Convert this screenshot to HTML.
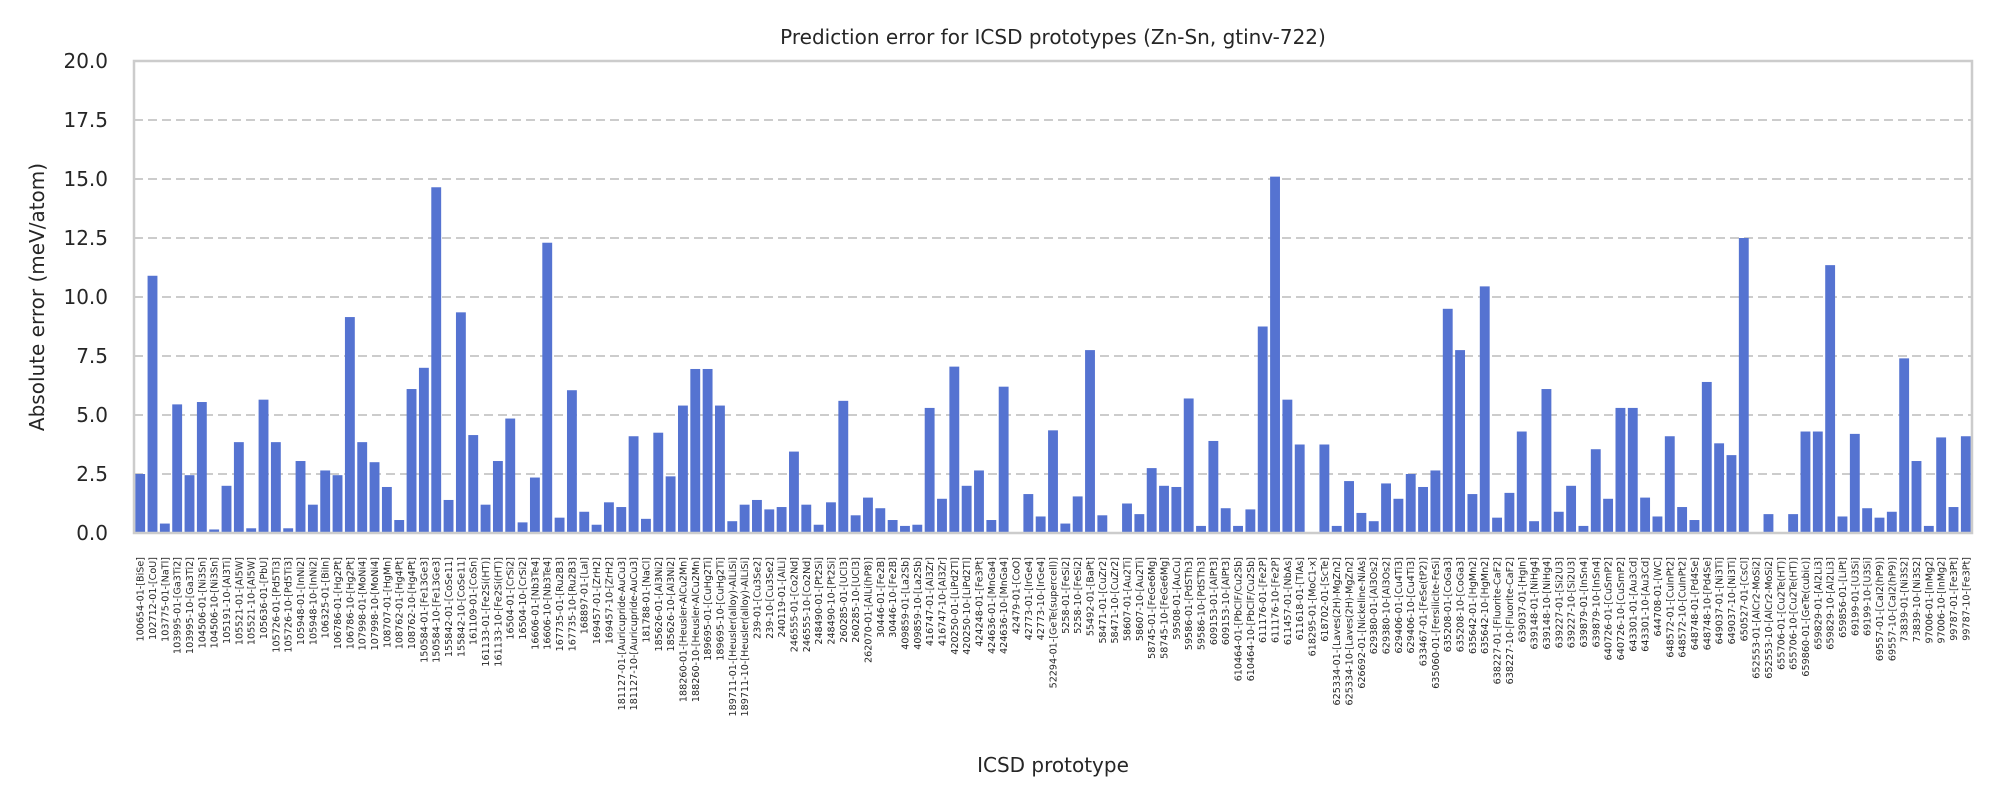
<!DOCTYPE html>
<html><head><meta charset="utf-8"><style>
html,body{margin:0;padding:0;background:#fff;}
svg text{font-family:"DejaVu Sans","Liberation Sans",sans-serif;fill:#262626;}
</style></head><body>
<svg id="chart" width="2000" height="800" xmlns="http://www.w3.org/2000/svg">
<text x="1053" y="44" font-size="20" text-anchor="middle">Prediction error for ICSD prototypes (Zn-Sn, gtinv-722)</text>
<text transform="translate(44,297) rotate(-90)" font-size="20" text-anchor="middle">Absolute error (meV/atom)</text>
<text x="1053" y="772" font-size="20" text-anchor="middle">ICSD prototype</text>
<g id="grid"></g><g id="bars"></g><g id="yticks"></g><g id="xticks"></g>
<rect x="134" y="61" width="1838" height="472" fill="none" stroke="#cccccc" stroke-width="2.5"/>
</svg>
<script>
const categories = ["100654-01-[BiSe]","102712-01-[CoU]","103775-01-[NaTl]","103995-01-[Ga3Ti2]","103995-10-[Ga3Ti2]","104506-01-[Ni3Sn]","104506-10-[Ni3Sn]","105191-10-[Al3Ti]","105521-01-[Al5W]","105521-10-[Al5W]","105636-01-[PbU]","105726-01-[Pd5Ti3]","105726-10-[Pd5Ti3]","105948-01-[InNi2]","105948-10-[InNi2]","106325-01-[BiIn]","106786-01-[Hg2Pt]","106786-10-[Hg2Pt]","107998-01-[MoNi4]","107998-10-[MoNi4]","108707-01-[HgMn]","108762-01-[Hg4Pt]","108762-10-[Hg4Pt]","150584-01-[Fe13Ge3]","150584-10-[Fe13Ge3]","155842-01-[CoSe11]","155842-10-[CoSe11]","161109-01-[CoSn]","161133-01-[Fe2Si(HT)]","161133-10-[Fe2Si(HT)]","16504-01-[CrSi2]","16504-10-[CrSi2]","16606-01-[Nb3Te4]","16606-10-[Nb3Te4]","167735-01-[Ru2B3]","167735-10-[Ru2B3]","168897-01-[LaI]","169457-01-[ZrH2]","169457-10-[ZrH2]","181127-01-[Auricupride-AuCu3]","181127-10-[Auricupride-AuCu3]","181788-01-[NaCl]","185626-01-[Al3Ni2]","185626-10-[Al3Ni2]","188260-01-[Heusler-AlCu2Mn]","188260-10-[Heusler-AlCu2Mn]","189695-01-[CuHg2Ti]","189695-10-[CuHg2Ti]","189711-01-[Heusler(alloy)-AlLiSi]","189711-10-[Heusler(alloy)-AlLiSi]","239-01-[Cu3Se2]","239-10-[Cu3Se2]","240119-01-[AlLi]","246555-01-[Co2Nd]","246555-10-[Co2Nd]","248490-01-[Pt2Si]","248490-10-[Pt2Si]","260285-01-[UCl3]","260285-10-[UCl3]","262070-01-[AlLi(hP8)]","30446-01-[Fe2B]","30446-10-[Fe2B]","409859-01-[La2Sb]","409859-10-[La2Sb]","416747-01-[Al3Zr]","416747-10-[Al3Zr]","420250-01-[LiPd2Tl]","420250-10-[LiPd2Tl]","424248-01-[Fe3Pt]","424636-01-[MnGa4]","424636-10-[MnGa4]","42479-01-[CoO]","42773-01-[IrGe4]","42773-10-[IrGe4]","52294-01-[GeTe(supercell)]","5258-01-[FeSi2]","5258-10-[FeSi2]","55492-01-[BaPt]","58471-01-[CuZr2]","58471-10-[CuZr2]","58607-01-[Au2Ti]","58607-10-[Au2Ti]","58745-01-[FeGe6Mg]","58745-10-[FeGe6Mg]","59508-01-[AuCu]","59586-01-[PdSTh3]","59586-10-[PdSTh3]","609153-01-[AlPt3]","609153-10-[AlPt3]","610464-01-[PbClF/Cu2Sb]","610464-10-[PbClF/Cu2Sb]","611176-01-[Fe2P]","611176-10-[Fe2P]","611457-01-[NbAs]","611618-01-[TlAs]","618295-01-[MoC1-x]","618702-01-[ScTe]","625334-01-[Laves(2H)-MgZn2]","625334-10-[Laves(2H)-MgZn2]","626692-01-[Nickeline-NiAs]","629380-01-[Al3Os2]","629380-10-[Al3Os2]","629406-01-[Cu4Ti3]","629406-10-[Cu4Ti3]","633467-01-[FeSe(tP2)]","635060-01-[Fersilicite-FeSi]","635208-01-[CoGa3]","635208-10-[CoGa3]","635642-01-[HgMn2]","635642-10-[HgMn2]","638227-01-[Fluorite-CaF2]","638227-10-[Fluorite-CaF2]","639037-01-[HgIn]","639148-01-[NiHg4]","639148-10-[NiHg4]","639227-01-[Si2U3]","639227-10-[Si2U3]","639879-01-[InSn4]","639879-10-[InSn4]","640726-01-[CuSmP2]","640726-10-[CuSmP2]","643301-01-[Au3Cd]","643301-10-[Au3Cd]","644708-01-[WC]","648572-01-[CuInPt2]","648572-10-[CuInPt2]","648748-01-[Pd4Se]","648748-10-[Pd4Se]","649037-01-[Ni3Ti]","649037-10-[Ni3Ti]","650527-01-[CsCl]","652553-01-[AlCr2-MoSi2]","652553-10-[AlCr2-MoSi2]","655706-01-[Cu2Te(HT)]","655706-10-[Cu2Te(HT)]","659860-01-[GeTe(cubic)]","659829-01-[Al2Li3]","659829-10-[Al2Li3]","659856-01-[LiPt]","69199-01-[U3Si]","69199-10-[U3Si]","69557-01-[CaI2(hP9)]","69557-10-[CaI2(hP9)]","73839-01-[Ni3S2]","73839-10-[Ni3S2]","97006-01-[InMg2]","97006-10-[InMg2]","99787-01-[Fe3Pt]","99787-10-[Fe3Pt]"];
const errors = [2.5,10.9,0.4,5.45,2.45,5.55,0.15,2.0,3.85,0.2,5.65,3.85,0.2,3.05,1.2,2.65,2.45,9.15,3.85,3.0,1.95,0.55,6.1,7.0,14.65,1.4,9.35,4.15,1.2,3.05,4.85,0.45,2.35,12.3,0.65,6.05,0.9,0.35,1.3,1.1,4.1,0.6,4.25,2.4,5.4,6.95,6.95,5.4,0.5,1.2,1.4,1.0,1.1,3.45,1.2,0.35,1.3,5.6,0.75,1.5,1.05,0.55,0.3,0.35,5.3,1.45,7.05,2.0,2.65,0.55,6.2,0.0,1.65,0.7,4.35,0.4,1.55,7.75,0.75,0.0,1.25,0.8,2.75,2.0,1.95,5.7,0.3,3.9,1.05,0.3,1.0,8.75,15.1,5.65,3.75,0.0,3.75,0.3,2.2,0.85,0.5,2.1,1.45,2.5,1.95,2.65,9.5,7.75,1.65,10.45,0.65,1.7,4.3,0.5,6.1,0.9,2.0,0.3,3.55,1.45,5.3,5.3,1.5,0.7,4.1,1.1,0.55,6.4,3.8,3.3,12.5,0.0,0.8,0.0,0.8,4.3,4.3,11.35,0.7,4.2,1.05,0.65,0.9,7.4,3.05,0.3,4.05,1.1,4.1];
const yTicks = [0,2.5,5,7.5,10,12.5,15,17.5,20];
const yTickLabels = ["0.0","2.5","5.0","7.5","10.0","12.5","15.0","17.5","20.0"];

const NS="http://www.w3.org/2000/svg";
const X0=134,X1=1972,Y0=533,Y1=61,YMAX=20;
const step=(X1-X0)/categories.length;
const xc=i=>X0+(i+0.5)*step;
const ys=v=>Y0-(v/YMAX)*(Y0-Y1);
function mk(t,a){const e=document.createElementNS(NS,t);for(const k in a)e.setAttribute(k,a[k]);return e;}
const grid=document.getElementById('grid'),yt=document.getElementById('yticks'),bars=document.getElementById('bars'),xt=document.getElementById('xticks');
yTicks.forEach((v,i)=>{
  if(v>0&&v<YMAX){
    const l=mk('line',{x1:X0,x2:X1,y1:ys(v),y2:ys(v),stroke:'#cccccc','stroke-width':2,'stroke-dasharray':'9,5'});
    
    
    grid.appendChild(l);
  }
  const t=mk('text',{x:108,y:ys(v)+7,'font-size':20,'text-anchor':'end'});
  
  
  t.textContent=yTickLabels[i];yt.appendChild(t);
});
const bw=step*0.8;
errors.forEach((v,i)=>{
  const r=mk('rect',{x:xc(i)-bw/2,y:ys(v),width:bw,height:Math.max(0,Y0-ys(v)),fill:'#5573d1'});
  
  
  bars.appendChild(r);
});
categories.forEach((c,i)=>{
  const x=xc(i)+3.5,y=557;
  const t=mk('text',{transform:`translate(${x},${y}) rotate(-90)`,'font-size':9.6,'text-anchor':'end'});
  
  
  t.textContent=c;xt.appendChild(t);
});
</script>
</body></html>
